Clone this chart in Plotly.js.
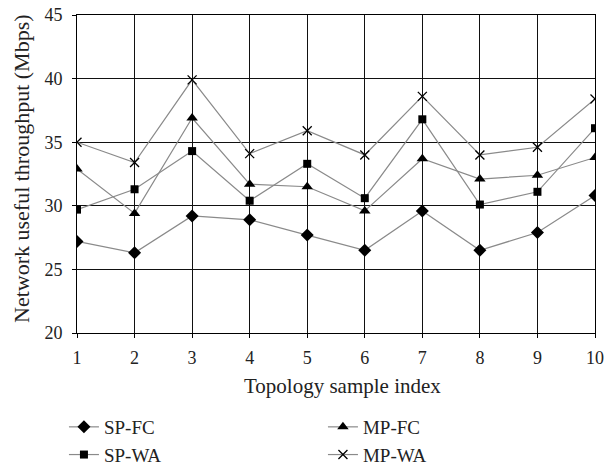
<!DOCTYPE html>
<html>
<head>
<meta charset="utf-8">
<script src="https://cdn.plot.ly/plotly-3.0.1.min.js"></script>
<style>html,body{margin:0;padding:0;background:#fff;}#chart{width:609px;height:474px;}</style>
</head>
<body>
<div id="chart"></div>
<script>
const xIndex = [1, 2, 3, 4, 5, 6, 7, 8, 9, 10];
const spFC = [27.2, 26.3, 29.2, 28.9, 27.7, 26.5, 29.6, 26.5, 27.9, 30.8];
const spWA = [29.7, 31.3, 34.3, 30.4, 33.3, 30.6, 36.8, 30.1, 31.1, 36.1];
const mpFC = [32.9, 29.4, 36.9, 31.7, 31.5, 29.6, 33.7, 32.1, 32.4, 33.8];
const mpWA = [35.0, 33.4, 39.9, 34.1, 35.9, 34.0, 38.6, 34.0, 34.6, 38.4];
const seriesNames = ["SP-FC", "MP-FC", "SP-WA", "MP-WA"];
const xTitle = "Topology sample index";
const yTitle = "Network useful throughput (Mbps)";

const lineStyle = {color: "#8a8a8a", width: 1.2};
function mk(name, y, symbol, size) {
  return {
    x: xIndex, y: y, name: name, type: "scatter", mode: "lines+markers",
    line: lineStyle,
    marker: {symbol: symbol, size: size, color: "#000", line: {color: "#000", width: symbol === "x-thin" ? 1.3 : 0}}
  };
}
const traces = [
  mk(seriesNames[0], spFC, "diamond", 10),
  mk(seriesNames[1], mpFC, "triangle-up", 10),
  mk(seriesNames[2], spWA, "square", 8),
  mk(seriesNames[3], mpWA, "x-thin", 9)
];

const font = {family: "Liberation Serif, DejaVu Serif, serif", size: 18, color: "#222"};
const layout = {
  width: 609, height: 474,
  margin: {l: 77, r: 14, t: 15, b: 141},
  paper_bgcolor: "#fff", plot_bgcolor: "#fff",
  font: font,
  showlegend: true,
  xaxis: {
    range: [1, 10], tickvals: xIndex, ticktext: xIndex.map(String),
    showgrid: true, gridcolor: "#111", gridwidth: 1,
    showline: true, linecolor: "#000", linewidth: 1, mirror: true,
    ticks: "outside", ticklen: 4, tickcolor: "#000",
    zeroline: false, automargin: false,
    ticklabelstandoff: 4,
    tickfont: {size: 18}
  },
  yaxis: {
    range: [20, 45], tickvals: [20, 25, 30, 35, 40, 45],
    showgrid: true, gridcolor: "#111", gridwidth: 1,
    showline: true, linecolor: "#000", linewidth: 1, mirror: true,
    ticks: "outside", ticklen: 4, tickcolor: "#000",
    zeroline: false, automargin: false,
    ticklabelstandoff: 6,
    tickfont: {size: 18}
  },
  annotations: [
    {text: xTitle, xref: "paper", yref: "paper", x: 0.512, y: -0.168,
     xanchor: "center", yanchor: "middle", showarrow: false, font: {size: 21}},
    {text: yTitle, xref: "paper", yref: "paper", x: -0.106, y: 0.516,
     xanchor: "center", yanchor: "middle", textangle: -90, showarrow: false, font: {size: 22}}
  ],
  legend: {
    orientation: "h", x: 0.105, xref: "container", xanchor: "left",
    y: 0, yref: "container", yanchor: "bottom",
    entrywidth: 214, entrywidthmode: "pixels",
    font: {size: 19}, tracegroupgap: 0, itemwidth: 30,
    bgcolor: "rgba(0,0,0,0)"
  }
};
Plotly.newPlot("chart", traces, layout, {displayModeBar: false, staticPlot: true});
</script>
</body>
</html>
